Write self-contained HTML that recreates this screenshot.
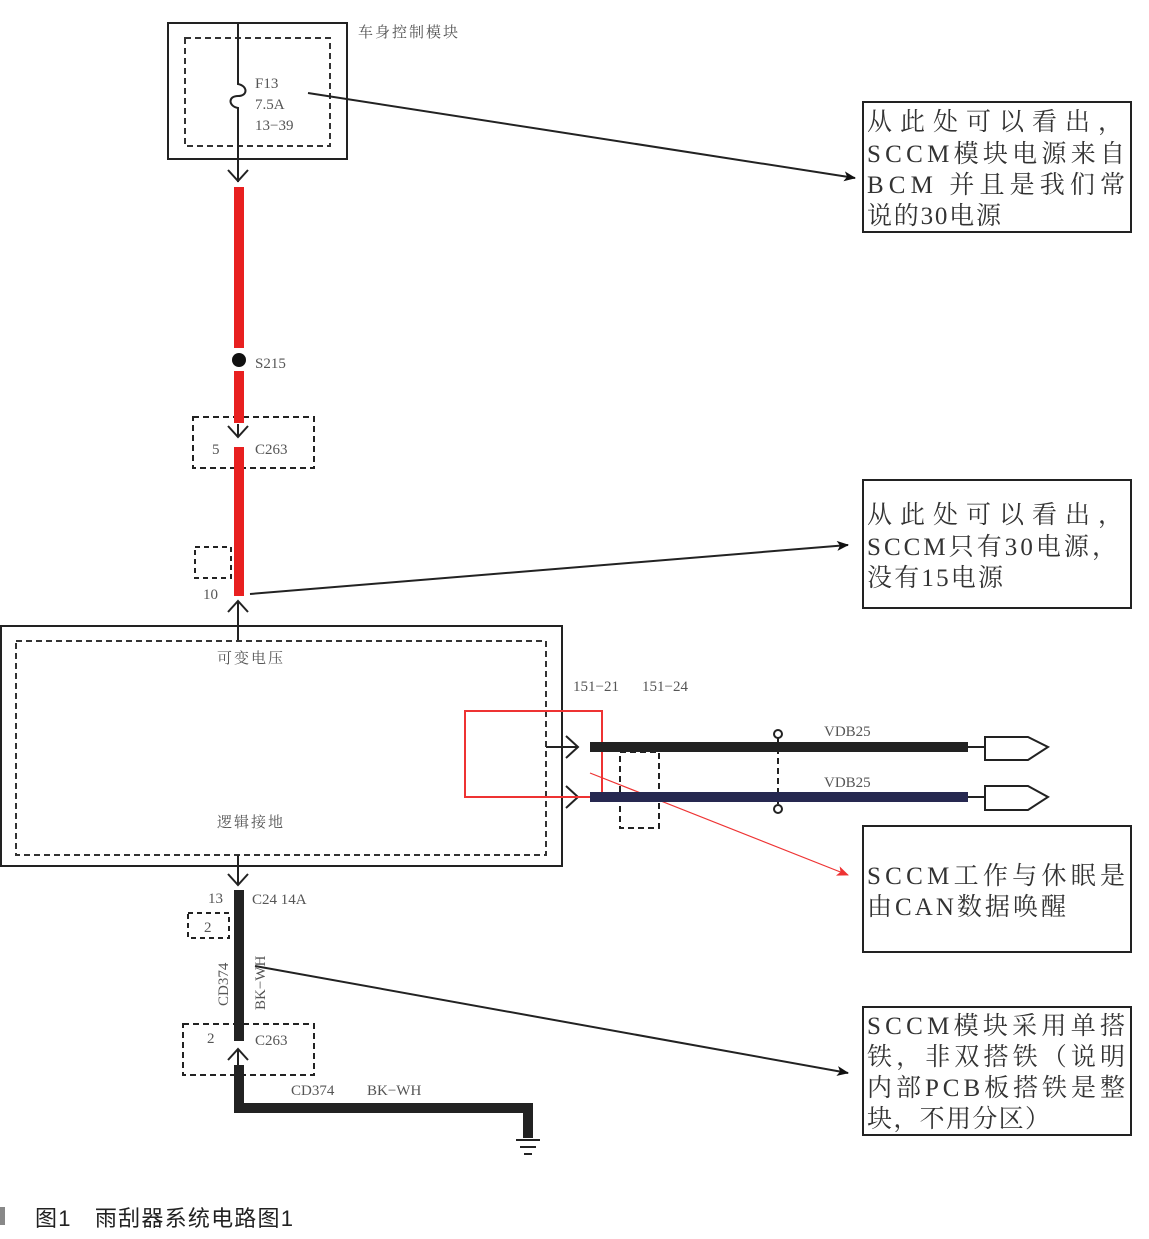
<!DOCTYPE html>
<html><head><meta charset="utf-8"><style>
html,body{margin:0;padding:0;background:#fff}
svg{display:block}
.s{font-family:"Liberation Serif","Noto Serif CJK SC",serif;fill:#555;font-size:15px}
.c{font-family:"Liberation Serif","Noto Serif CJK SC",serif;fill:#333;font-size:25px}
</style></head><body>
<svg width="1149" height="1239" viewBox="0 0 1149 1239" xmlns="http://www.w3.org/2000/svg">
<defs>
<marker id="ah" markerWidth="12" markerHeight="10" refX="11" refY="5" orient="auto" markerUnits="userSpaceOnUse" viewBox="0 0 12 10"><path d="M0,0 L12,5 L0,10 L3,5z" fill="#111"/></marker>
<marker id="ahr" markerWidth="12" markerHeight="10" refX="11" refY="5" orient="auto" markerUnits="userSpaceOnUse" viewBox="0 0 12 10"><path d="M0,0 L12,5 L0,10 L3,5z" fill="#e33"/></marker>
</defs>
<g fill="none" stroke="#222" stroke-width="2">
<rect x="168" y="23" width="179" height="136"/>
<rect x="185" y="38" width="145" height="108" stroke-dasharray="6,4" stroke="#333"/>
<path d="M238,23 V84 C248,86 248,96 238,96 C228,96 228,106 238,108 V182"/>
<path d="M228,170 L238,181 L248,170"/>
<rect x="193" y="417" width="121" height="51" stroke-dasharray="6,4"/>
<path d="M228,426 L238,437 L248,426 M238,424 V437"/>
<rect x="195" y="547" width="36" height="31" stroke-dasharray="5,4"/>
<path d="M228,612 L238,601 L248,612 M238,601 V641"/>
<rect x="1" y="626" width="561" height="240"/>
<rect x="16" y="641" width="530" height="214" stroke-dasharray="6,4" stroke="#333"/>
<path d="M238,855 V885 M228,874 L238,885 L248,874"/>
<path d="M546,747 H578 M566,736 L578,747 L566,758 M546,797 H578 M566,786 L578,797 L566,808"/>
<rect x="620" y="752" width="39" height="76" stroke-dasharray="6,4"/>
<path d="M778,738 V806" stroke-dasharray="6,4"/>
<circle cx="778" cy="734" r="4"/><circle cx="778" cy="809" r="4"/>
<path d="M968,747 H985 M985,737 H1028 L1048,747 L1028,760 H985z M968,797 H985 M985,786 H1028 L1048,797 L1028,810 H985z"/>
<rect x="188" y="913" width="41" height="25" stroke-dasharray="5,4"/>
<rect x="183" y="1024" width="131" height="51" stroke-dasharray="6,4"/>
<path d="M228,1060 L238,1049 L248,1060 M238,1049 V1065"/>
<path d="M516,1140 H540 M520,1147 H536 M524,1154 H532"/>
<rect x="863" y="102" width="268" height="130"/>
<rect x="863" y="480" width="268" height="128"/>
<rect x="863" y="826" width="268" height="126"/>
<rect x="863" y="1007" width="268" height="128"/>
<path d="M308,93 L855,178" marker-end="url(#ah)"/>
<path d="M250,594 L848,545" marker-end="url(#ah)"/>
<path d="M255,966 L848,1073" marker-end="url(#ah)"/>
</g>
<rect x="465" y="711" width="137" height="86" fill="none" stroke="#e33" stroke-width="2"/>
<path d="M590,773 L848,875" stroke="#e33" stroke-width="1.2" fill="none" marker-end="url(#ahr)"/>
<rect x="234" y="187" width="10" height="161" fill="#e82020"/>
<rect x="234" y="371" width="10" height="52" fill="#e82020"/>
<rect x="234" y="447" width="10" height="149" fill="#e82020"/>
<circle cx="239" cy="360" r="7" fill="#111"/>
<rect x="590" y="742" width="378" height="10" fill="#222"/>
<rect x="590" y="792" width="378" height="10" fill="#262850"/>
<rect x="234" y="890" width="10" height="151" fill="#222"/>
<path d="M239,1065 V1108 H528 V1138" stroke="#222" stroke-width="10" fill="none"/>
<text class="s" x="358" y="37" textLength="100">车身控制模块</text>
<text class="s" x="255" y="88">F13</text>
<text class="s" x="255" y="109">7.5A</text>
<text class="s" x="255" y="130">13−39</text>
<text class="s" x="255" y="368">S215</text>
<text class="s" x="212" y="454">5</text>
<text class="s" x="255" y="454">C263</text>
<text class="s" x="203" y="599">10</text>
<text class="s" x="217" y="663" textLength="66">可变电压</text>
<text class="s" x="217" y="827" textLength="66">逻辑接地</text>
<text class="s" x="573" y="691">151−21</text>
<text class="s" x="642" y="691">151−24</text>
<text class="s" x="824" y="736">VDB25</text>
<text class="s" x="824" y="787">VDB25</text>
<text class="s" x="208" y="903">13</text>
<text class="s" x="252" y="904">C24 14A</text>
<text class="s" x="204" y="932">2</text>
<text class="s" x="207" y="1043">2</text>
<text class="s" x="255" y="1045">C263</text>
<text class="s" transform="translate(228,1006) rotate(-90)">CD374</text>
<text class="s" transform="translate(265,1010) rotate(-90)">BK−WH</text>
<text class="s" x="291" y="1095">CD374</text>
<text class="s" x="367" y="1095">BK−WH</text>
<text class="c" x="867" y="130" textLength="256">从此处可以看出，</text>
<text class="c" x="867" y="162" textLength="258">SCCM模块电源来自</text>
<text class="c" x="867" y="193" textLength="258">BCM 并且是我们常</text>
<text class="c" x="867" y="224" textLength="134">说的30电源</text>
<text class="c" x="867" y="523" textLength="256">从此处可以看出，</text>
<text class="c" x="867" y="555" textLength="250">SCCM只有30电源，</text>
<text class="c" x="867" y="586" textLength="136">没有15电源</text>
<text class="c" x="867" y="884" textLength="258">SCCM工作与休眠是</text>
<text class="c" x="867" y="915" textLength="199">由CAN数据唤醒</text>
<text class="c" x="867" y="1034" textLength="258">SCCM模块采用单搭</text>
<text class="c" x="867" y="1065" textLength="258">铁，非双搭铁（说明</text>
<text class="c" x="867" y="1096" textLength="258">内部PCB板搭铁是整</text>
<text class="c" x="867" y="1127" textLength="183">块，不用分区）</text>
<rect x="0" y="1207" width="5" height="18" fill="#888"/>
<text x="35" y="1226" textLength="258" style="font-family:'Liberation Sans','Noto Sans CJK SC',sans-serif;font-size:22px;fill:#222">图1　雨刮器系统电路图1</text>
</svg>
</body></html>
